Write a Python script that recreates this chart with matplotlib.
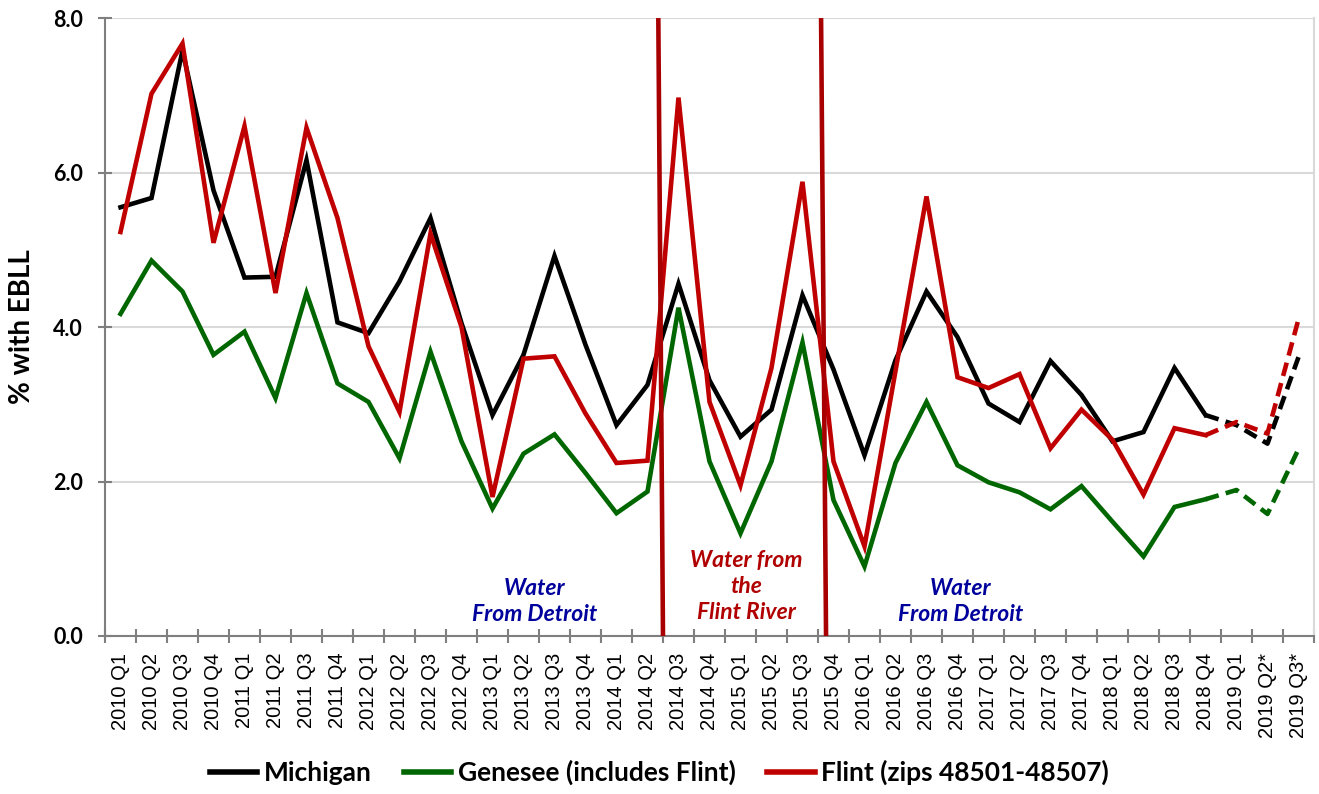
import numpy as np
import matplotlib
matplotlib.use("Agg")
import matplotlib.pyplot as plt
from matplotlib.lines import Line2D

# quarter labels use an Arial-like face, the bold text uses Lato
plt.rcParams['font.family'] = ['Liberation Sans', 'DejaVu Sans']
plt.rcParams['xtick.labelsize'] = 14.5
BOLD = ['Lato', 'DejaVu Sans']

quarters = []
for yr in range(2010, 2019):
    for q in range(1, 5):
        quarters.append(f"{yr} Q{q}")
quarters += ["2019 Q1", "2019 Q2*", "2019 Q3*"]

michigan = [5.55, 5.67, 7.58, 5.77, 4.64, 4.65, 6.16, 4.06, 3.92, 4.59, 5.41, 4.05,
            2.86, 3.64, 4.92, 3.77, 2.73, 3.25, 4.56, 3.31, 2.58, 2.93, 4.41, 3.45,
            2.34, 3.57, 4.46, 3.87, 3.01, 2.77, 3.56, 3.12, 2.52, 2.64, 3.47, 2.86,
            2.73, 2.49, 3.61]
genesee = [4.17, 4.86, 4.46, 3.64, 3.94, 3.08, 4.44, 3.27, 3.03, 2.30, 3.68, 2.52,
           1.65, 2.36, 2.61, 2.11, 1.59, 1.87, 4.25, 2.26, 1.33, 2.26, 3.80, 1.76,
           0.90, 2.24, 3.03, 2.21, 1.99, 1.86, 1.64, 1.94, 1.48, 1.03, 1.67, 1.77,
           1.89, 1.58, 2.42]
flint = [5.23, 7.02, 7.67, 5.09, 6.60, 4.44, 6.58, 5.41, 3.75, 2.90, 5.21, 4.00,
         1.80, 3.59, 3.62, 2.88, 2.24, 2.27, 6.97, 3.03, 1.95, 3.47, 5.88, 2.26,
         1.16, 3.43, 5.69, 3.35, 3.21, 3.39, 2.43, 2.93, 2.54, 1.83, 2.69, 2.60,
         2.77, 2.62, 4.10]

series_names = ["Michigan", "Genesee (includes Flint)", "Flint (zips 48501-48507)"]
series_colors = ["#000000", "#006600", "#C00000"]

# water source switch markers (top x, bottom x in category units)
switch_lines = [(17.35, 17.5), (22.6, 22.76)]
dash_start = 35  # provisional data from this quarter on

fig = plt.figure(figsize=(13.19, 7.94), dpi=100)
ax = fig.add_axes([0.0796, 0.199, 0.9166, 0.7783])

x = np.arange(len(quarters))
for vals, col in zip([michigan, genesee, flint], series_colors):
    v = np.array(vals)
    ax.plot(x[:dash_start + 1], v[:dash_start + 1], color=col, lw=3.3,
            solid_joinstyle='miter', zorder=3)
    ax.plot(x[dash_start:], v[dash_start:], color=col, lw=3.3,
            linestyle=(0, (3, 1.6)), zorder=3)

for xt, xb in switch_lines:
    ax.plot([xt, xb], [7.97, 0], color="#A80000", lw=3.3, zorder=4)

txt = dict(fontsize=16.5, fontweight='bold', fontstyle='italic', ha='center',
           va='center', linespacing=1.3, family=BOLD)
ax.text(13.37, 0.45, "Water\nFrom Detroit", color="#00009C", **txt)
ax.text(27.1, 0.45, "Water\nFrom Detroit", color="#00009C", **txt)
ax.text(20.18, 0.64, "Water from\nthe\nFlint River", color="#B00000", **txt)

ax.set_xlim(-0.5, len(quarters) - 0.5)
ax.set_ylim(0, 8)
ax.set_yticks([0, 2, 4, 6, 8])
ax.set_yticklabels([f"{t:.1f}" for t in [0, 2, 4, 6, 8]], fontsize=15.5,
                   fontweight='bold', family=BOLD)
ax.set_ylabel("% with EBLL", fontsize=20, fontweight='bold', family=BOLD)
ax.yaxis.set_label_coords(-0.058, 0.5)

ax.set_xticks(np.arange(len(quarters) + 1) - 0.5)
ax.set_xticklabels([])
ax.set_xticks(x, minor=True)
ax.set_xticklabels(quarters, minor=True, rotation=90)
ax.tick_params(axis='x', which='minor', length=0, pad=12)
ax.tick_params(axis='x', which='major', direction='inout', length=10, width=1.5,
               color='#7F7F7F')
ax.tick_params(axis='y', direction='inout', length=10, width=1.5, color='#7F7F7F', pad=11)

ax.grid(axis='y', color='#D9D9D9', lw=1.5, zorder=0)
ax.set_axisbelow(True)
for s in ['left', 'bottom']:
    ax.spines[s].set_color('#7F7F7F')
    ax.spines[s].set_linewidth(1.5)
ax.spines['top'].set_visible(False)
ax.spines['right'].set_color('#D9D9D9')
ax.spines['right'].set_linewidth(1.5)

handles = [Line2D([0], [0], color=c, lw=4) for c in series_colors]
fig.legend(handles, series_names, loc='center', bbox_to_anchor=(0.5, 0.027),
           ncol=3, frameon=False,
           prop={'size': 19, 'weight': 'bold', 'family': BOLD},
           handlelength=1.8, handletextpad=0.25, columnspacing=1.2)

fig.savefig("out.png", dpi=100)
